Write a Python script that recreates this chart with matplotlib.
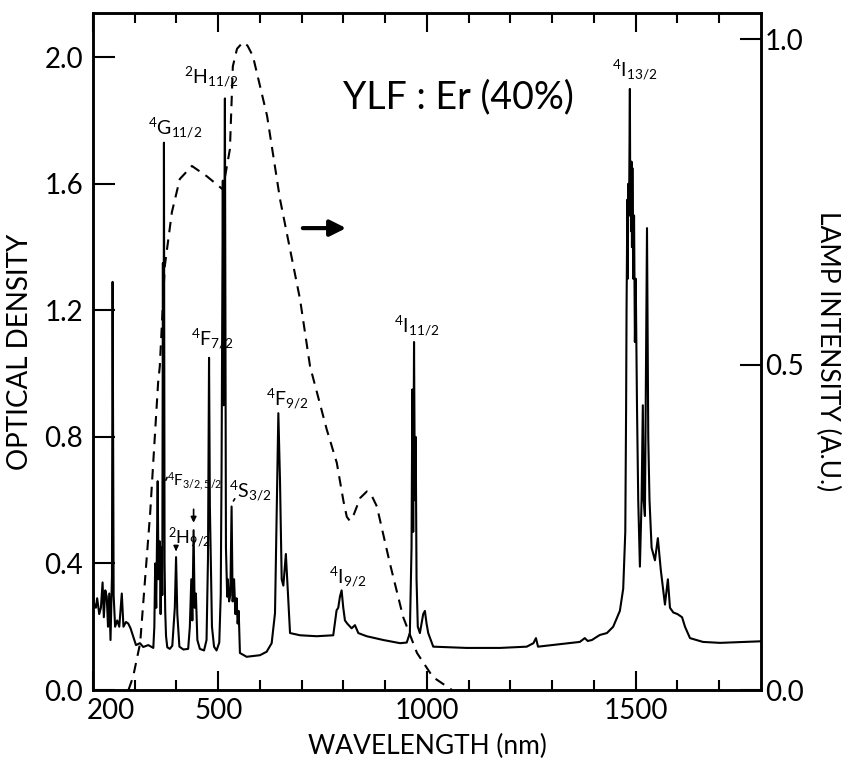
import matplotlib.pyplot as plt
from matplotlib.transforms import ScaledTranslation

plt.rcParams['font.family'] = ['Lato', 'DejaVu Sans']
plt.rcParams['mathtext.fontset'] = 'custom'
plt.rcParams['mathtext.rm'] = 'Lato'
plt.rcParams['mathtext.it'] = 'Lato'

# absorption spectrum (optical density)
wl = [200, 202, 207, 210, 215, 219, 223, 226, 229.5, 233, 236, 239, 242, 245.5, 247, 249.5,
      253, 258, 263, 269, 273, 279, 284.5, 290, 296.5, 303, 312.5, 320.5, 332.5, 344.5,
      347, 349, 351.5, 355, 357, 360, 362, 364, 366, 367.5, 369, 370, 371.5, 373, 375, 378,
      384, 390, 396, 399, 402, 407, 416.5, 428, 432, 435.5, 438, 441, 443.5, 446.5, 450,
      456, 466, 472, 475.5, 478, 480, 482.5, 485, 490, 496, 502.5, 506, 508, 511, 513, 516,
      518.5, 521.5, 523, 526, 529, 532, 534.5, 538, 541, 544, 546.5, 549, 552, 568, 600,
      616, 628, 636, 640, 644, 648, 652, 656, 662, 666, 672, 696, 736, 775.5, 783.5, 787.5,
      791.5, 795.5, 799.5, 803.5, 809, 819.5, 827.5, 835.5, 855.5, 895.5, 935.5, 951.5, 959,
      963, 965, 967, 969, 971, 973, 975, 978, 983, 991, 995, 999, 1003, 1015, 1095, 1175,
      1239, 1255, 1261, 1266, 1366, 1378, 1385, 1395, 1414, 1431, 1446, 1462, 1470, 1475,
      1477, 1478, 1480, 1481, 1482, 1484, 1486, 1487, 1488, 1489, 1490, 1491, 1492, 1494,
      1496, 1498, 1500, 1503, 1506, 1510, 1514,
      1517, 1519, 1522, 1527, 1530, 1533, 1538, 1546, 1553, 1560, 1570, 1577, 1582, 1590,
      1600, 1611, 1618, 1630, 1661, 1702, 1800]
od = [0.295, 0.275, 0.26, 0.29, 0.24, 0.26, 0.34, 0.23, 0.315, 0.295, 0.20, 0.305, 0.158, 0.36, 1.29, 0.30,
      0.20, 0.22, 0.20, 0.305, 0.20, 0.215, 0.21, 0.195, 0.168, 0.142, 0.148, 0.136, 0.142, 0.133,
      0.20, 0.40, 0.26, 0.66, 0.35, 0.47, 0.24, 0.45, 0.30, 1.35, 0.60, 1.73, 0.40, 0.25, 0.17, 0.135,
      0.13, 0.14, 0.26, 0.42, 0.24, 0.137, 0.128, 0.13, 0.20, 0.35, 0.22, 0.505, 0.26, 0.305, 0.158,
      0.13, 0.125, 0.158, 0.42, 1.05, 0.58, 0.39, 0.20, 0.137, 0.125, 0.15, 0.30, 0.70, 1.61, 0.90, 1.87,
      0.45, 0.295, 0.35, 0.28, 0.30, 0.58, 0.28, 0.35, 0.24, 0.29, 0.21, 0.25, 0.117, 0.105, 0.11,
      0.121, 0.148, 0.243, 0.56, 0.875, 0.66, 0.35, 0.33, 0.43, 0.33, 0.18, 0.173, 0.17, 0.173, 0.252, 0.26,
      0.295, 0.315, 0.26, 0.22, 0.21, 0.195, 0.205, 0.18, 0.17, 0.158, 0.148, 0.15, 0.18,
      0.45, 0.95, 0.50, 1.10, 0.60, 0.80, 0.35, 0.20, 0.18, 0.24, 0.25, 0.21, 0.18, 0.137, 0.133, 0.133,
      0.137, 0.148, 0.164, 0.137, 0.152, 0.164, 0.155, 0.158, 0.174, 0.18, 0.20, 0.25, 0.32, 0.50,
      0.90, 1.20, 1.55, 1.30, 1.60, 1.50, 1.90, 1.50, 1.67, 1.45, 1.67, 1.40, 1.65, 1.30,
      1.50, 1.10, 1.30, 0.90, 0.60, 0.39, 0.60,
      0.90, 0.60, 0.55, 1.46, 0.80, 0.60, 0.45, 0.41, 0.48, 0.38, 0.27, 0.35, 0.26, 0.245,
      0.24, 0.23, 0.20, 0.164, 0.152, 0.149, 0.154]

# lamp intensity (dashed, right axis)
lamp_wl = [285, 296, 313, 337, 356, 360, 372, 389, 408, 437, 473, 511, 528, 535, 545, 559, 570,
           583, 617, 648, 672, 696, 720, 760, 784, 800, 808, 815, 825, 840, 856, 868, 880, 911,
           943, 976, 1014, 1060]
lamp = [0.0, 0.02, 0.072, 0.272, 0.472, 0.497, 0.651, 0.734, 0.785, 0.805, 0.789, 0.769, 0.831,
        0.958, 0.985, 0.995, 0.99, 0.974, 0.882, 0.754, 0.677, 0.60, 0.497, 0.40, 0.349, 0.29,
        0.266, 0.26, 0.27, 0.295, 0.305, 0.298, 0.282, 0.195, 0.112, 0.057, 0.02, 0.0]

# level labels: (text, wavelength, OD, size)
labels = [
    (r'$^{4}\mathrm{G}_{11/2}$', 332, 1.776, 14),
    (r'$^{2}\mathrm{H}_{11/2}$', 418, 1.94, 14),
    (r'$^{4}\mathrm{F}_{7/2}$', 435, 1.11, 14),
    (r'$^{4}\mathrm{I}_{11/2}$', 921, 1.15, 14),
    (r'$^{4}\mathrm{F}_{3/2,5/2}$', 377, 0.66, 11),
    (r'$^{2}\mathrm{H}_{9/2}$', 380, 0.48, 13),
    (r'$^{4}\mathrm{S}_{3/2}$', 526, 0.63, 14),
    (r'$^{4}\mathrm{F}_{9/2}$', 614, 0.92, 14),
    (r'$^{4}\mathrm{I}_{9/2}$', 765, 0.357, 14),
    (r'$^{4}\mathrm{I}_{13/2}$', 1443, 1.96, 14),
]

fig = plt.figure(figsize=(8.46, 7.6), dpi=100)
ax = fig.add_axes([0.1099, 0.0921, 0.7896, 0.8908])
ax2 = ax.twinx()

ax.plot(wl, od, color='black', lw=1.5)
ax2.plot(lamp_wl, lamp, color='black', lw=1.5, ls=(0, (5, 3.5)))

ax.set_xlim(200, 1800)
ax.set_ylim(0, 2.14)
ax2.set_ylim(0, 1.04)

ax.set_xticks([200, 500, 1000, 1500])
ax.set_xticks(range(300, 1800, 100), minor=True)
ax.set_yticks([0.0, 0.4, 0.8, 1.2, 1.6, 2.0])
ax.set_yticklabels(['0.0', '0.4', '0.8', '1.2', '1.6', '2.0'])
ax2.set_yticks([0.0, 0.5, 1.0])
ax2.set_yticklabels(['0.0', '0.5', '1.0'])

ax.tick_params(axis='x', which='both', direction='in', top=True, labelsize=20, pad=6, width=1.5)
ax.tick_params(axis='x', which='major', length=14)
ax.tick_params(axis='x', which='minor', length=7)
ax.tick_params(axis='y', direction='in', length=16, width=1.5, labelsize=20, pad=7)
ax2.tick_params(axis='y', direction='in', length=15, width=1.5, labelsize=20, pad=3)

# the "200" label sits to the right of the corner
lab200 = ax.get_xticklabels()[0]
lab200.set_transform(lab200.get_transform() + ScaledTranslation(0.18, 0, fig.dpi_scale_trans))

for a in (ax, ax2):
    for s in a.spines.values():
        s.set_linewidth(1.8)

ax.set_xlabel('WAVELENGTH (nm)', fontsize=19, labelpad=7)
ax.set_ylabel('OPTICAL DENSITY', fontsize=20, labelpad=8)
ax2.set_ylabel('LAMP INTENSITY (A.U.)', fontsize=19, rotation=-90, labelpad=26)

ax.text(799, 1.874, 'YLF : Er (40%)', fontsize=27, ha='left', va='center')

for txt, x, y, fs in labels:
    ax.text(x, y, txt, fontsize=fs, ha='left', va='center')

# arrows
ax.annotate('', xy=(813, 1.46), xytext=(696, 1.46),
            arrowprops=dict(arrowstyle='-|>', lw=3, color='black', mutation_scale=24))
ax.annotate('', xy=(441, 0.52), xytext=(441, 0.58),
            arrowprops=dict(arrowstyle='-|>', lw=1.2, color='black', mutation_scale=8))
ax.annotate('', xy=(399, 0.43), xytext=(399, 0.455),
            arrowprops=dict(arrowstyle='-|>', lw=1.2, color='black', mutation_scale=7))
ax.annotate('', xy=(533, 0.59), xytext=(543, 0.612),
            arrowprops=dict(arrowstyle='-', lw=1.2, color='black'))
ax.annotate('', xy=(372, 0.655), xytext=(380, 0.68),
            arrowprops=dict(arrowstyle='-', lw=1.2, color='black'))

fig.savefig('out.png', dpi=100)
